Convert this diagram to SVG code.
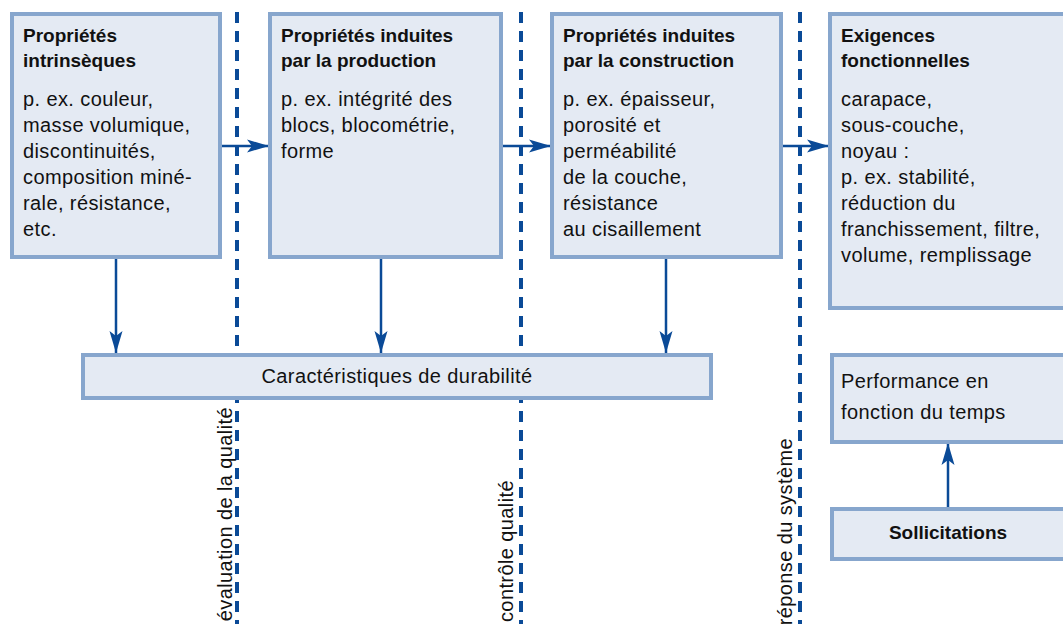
<svg xmlns="http://www.w3.org/2000/svg" width="1063" height="624" viewBox="0 0 1063 624">
<style>
.box{fill:#e4eaf3;stroke:#87a6cd;stroke-width:4}
.dash{stroke:#0a4a97;stroke-width:4;stroke-dasharray:11 8;fill:none}
.conn{stroke:#0a4a97;stroke-width:2.5;fill:none}
.t{font-family:"Liberation Sans",Arial,Helvetica,sans-serif;font-size:20px;letter-spacing:0.4px;fill:#111111}
.b{font-family:"Liberation Sans",Arial,Helvetica,sans-serif;font-size:19px;font-weight:bold;fill:#111111}
</style>
<defs>
<marker id="ah" markerUnits="userSpaceOnUse" markerWidth="24" markerHeight="14" refX="22" refY="7" orient="auto">
<path d="M0,0.5 L22,7 L0,13.5 L5,7 z" fill="#0a4a97"/>
</marker>
</defs>
<rect width="1063" height="624" fill="#ffffff"/>
<g id="separators">
<line class="dash" x1="237" y1="12" x2="237" y2="624"/>
<line class="dash" x1="521" y1="12" x2="521" y2="624"/>
<line class="dash" x1="800" y1="12" x2="800" y2="624"/>
<text class="t" transform="translate(232,407) rotate(-90)" text-anchor="end">évaluation de la qualité</text>
<text class="t" transform="translate(513,480) rotate(-90)" text-anchor="end">contrôle qualité</text>
<text class="t" transform="translate(792,438) rotate(-90)" text-anchor="end">réponse du système</text>
</g>
<g id="connectors">
<line class="conn" x1="220" y1="146" x2="269" y2="146" marker-end="url(#ah)"/>
<line class="conn" x1="501" y1="146" x2="551" y2="146" marker-end="url(#ah)"/>
<line class="conn" x1="781" y1="146" x2="829" y2="146" marker-end="url(#ah)"/>
<line class="conn" x1="116" y1="258" x2="116" y2="353" marker-end="url(#ah)"/>
<line class="conn" x1="381" y1="258" x2="381" y2="353" marker-end="url(#ah)"/>
<line class="conn" x1="666" y1="258" x2="666" y2="353" marker-end="url(#ah)"/>
<line class="conn" x1="948" y1="508" x2="948" y2="443" marker-end="url(#ah)"/>
</g>
<g id="intrinseques">
<rect class="box" x="12" y="14" width="208" height="243"/>
<text class="b" x="23" y="42">Propriétés</text>
<text class="b" x="23" y="67">intrinsèques</text>
<text class="t" x="23" y="106">p. ex. couleur,</text>
<text class="t" x="23" y="132">masse volumique,</text>
<text class="t" x="23" y="158">discontinuités,</text>
<text class="t" x="23" y="184">composition miné-</text>
<text class="t" x="23" y="210">rale, résistance,</text>
<text class="t" x="23" y="236">etc.</text>
</g>
<g id="production">
<rect class="box" x="270" y="14" width="231" height="243"/>
<text class="b" x="281" y="42">Propriétés induites</text>
<text class="b" x="281" y="67">par la production</text>
<text class="t" x="281" y="106">p. ex. intégrité des</text>
<text class="t" x="281" y="132">blocs, blocométrie,</text>
<text class="t" x="281" y="158">forme</text>
</g>
<g id="construction">
<rect class="box" x="552" y="14" width="229" height="243"/>
<text class="b" x="563" y="42">Propriétés induites</text>
<text class="b" x="563" y="67">par la construction</text>
<text class="t" x="563" y="106">p. ex. épaisseur,</text>
<text class="t" x="563" y="132">porosité et</text>
<text class="t" x="563" y="158">perméabilité</text>
<text class="t" x="563" y="184">de la couche,</text>
<text class="t" x="563" y="210">résistance</text>
<text class="t" x="563" y="236">au cisaillement</text>
</g>
<g id="exigences">
<rect class="box" x="830" y="14" width="240" height="294"/>
<text class="b" x="841" y="42">Exigences</text>
<text class="b" x="841" y="67">fonctionnelles</text>
<text class="t" x="841" y="106">carapace,</text>
<text class="t" x="841" y="132">sous-couche,</text>
<text class="t" x="841" y="158">noyau :</text>
<text class="t" x="841" y="184">p. ex. stabilité,</text>
<text class="t" x="841" y="210">réduction du</text>
<text class="t" x="841" y="236">franchissement, filtre,</text>
<text class="t" x="841" y="262">volume, remplissage</text>
</g>
<g id="durabilite">
<rect class="box" x="83" y="355" width="628" height="43"/>
<text class="t" x="397" y="383" text-anchor="middle">Caractéristiques de durabilité</text>
</g>
<g id="performance">
<rect class="box" x="832" y="355" width="240" height="87"/>
<text class="t" x="841" y="388">Performance en</text>
<text class="t" x="841" y="419">fonction du temps</text>
</g>
<g id="sollicitations">
<rect class="box" x="832" y="509" width="240" height="50"/>
<text class="b" x="948" y="539" text-anchor="middle">Sollicitations</text>
</g>
</svg>
